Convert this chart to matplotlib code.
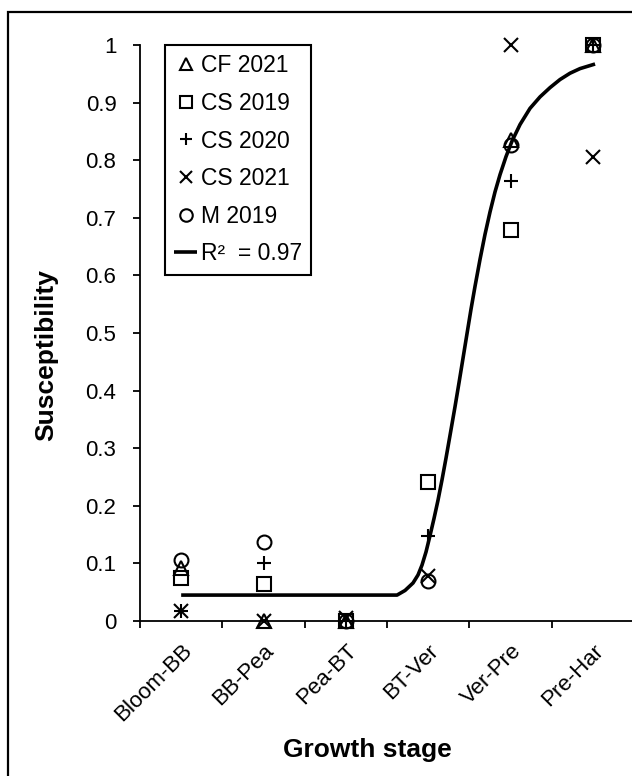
"""
Susceptibility by growth stage, one marker set per site-year plus the
fitted sigmoid (R^2 = 0.97). Values read off the published figure.
"""
import numpy as np
import matplotlib
matplotlib.use("Agg")
import matplotlib.pyplot as plt
from matplotlib.patches import Rectangle

plt.rcParams["font.family"] = ["Liberation Sans", "DejaVu Sans"]

STAGES = ["Bloom-BB", "BB-Pea", "Pea-BT", "BT-Ver", "Ver-Pre", "Pre-Har"]

CF_2021 = [0.092, 0.0, 0.0, np.nan, 0.835, 1.0]
CS_2019 = [0.075, 0.065, 0.0, 0.242, 0.679, 1.0]
CS_2020 = [0.018, 0.100, 0.0, 0.148, 0.764, 1.0]
CS_2021 = [0.018, 0.0, 0.006, 0.078, 1.0, 0.805]
M_2019 = [0.106, 0.137, 0.0, 0.070, 0.826, 1.0]

# fitted curve (x in stage-index units)
FIT_X = [0.0, 2.50, 2.622, 2.719, 2.816, 2.877, 2.925, 2.974, 3.022, 3.071,
         3.120, 3.168, 3.217, 3.265, 3.326, 3.375, 3.423, 3.472, 3.520,
         3.569, 3.630, 3.690, 3.751, 3.812, 3.873, 3.945, 4.018, 4.116,
         4.237, 4.359, 4.480, 4.601, 4.723, 4.844, 5.027]
FIT_Y = [0.045, 0.045, 0.045, 0.053, 0.066, 0.080, 0.097, 0.120, 0.148,
         0.178, 0.210, 0.245, 0.283, 0.322, 0.372, 0.414, 0.456, 0.499,
         0.541, 0.581, 0.628, 0.671, 0.710, 0.745, 0.775, 0.806, 0.833,
         0.862, 0.890, 0.910, 0.926, 0.940, 0.951, 0.959, 0.967]
FIT_LABEL = "R\u00b2  = 0.97"

Y_TICKS = [0, 0.1, 0.2, 0.3, 0.4, 0.5, 0.6, 0.7, 0.8, 0.9, 1]
Y_TICK_LABELS = ["0", "0.1", "0.2", "0.3", "0.4", "0.5", "0.6", "0.7",
                 "0.8", "0.9", "1"]

W, H = 632, 776
FS = 16
FS_LEG = 16.5


def main():
    fig = plt.figure(figsize=(W / 100, H / 100), dpi=100)
    ax = fig.add_axes([140 / W, (H - 621) / H, 494 / W, 576 / H])

    x = np.arange(len(STAGES))
    series = [("CF 2021", CF_2021, "^"), ("CS 2019", CS_2019, "s"),
              ("CS 2020", CS_2020, "+"), ("CS 2021", CS_2021, "x"),
              ("M 2019", M_2019, "o")]
    for name, vals, mk in series:
        ax.plot(x, vals, ls="none", marker=mk, ms=10, mfc="none", mec="black",
                mew=1.5, clip_on=False, label=name, zorder=3)

    ax.plot(FIT_X, FIT_Y, color="black", lw=2.6, solid_joinstyle="round",
            solid_capstyle="butt", label=FIT_LABEL, zorder=4)

    ax.set_xlim(-0.5, len(STAGES) - 0.5)
    ax.set_ylim(0, 1)
    ax.set_xticks(np.arange(-0.5, len(STAGES)), minor=False)
    ax.set_xticklabels([])
    ax.set_xticks(x, minor=True)
    ax.set_xticklabels(STAGES, minor=True, rotation=45, ha="right", va="top",
                       rotation_mode="anchor", fontsize=FS)
    ax.tick_params(axis="x", which="major", direction="out", length=5,
                   width=1.3)
    ax.tick_params(axis="x", which="minor", length=0, pad=14)
    ax.set_yticks(Y_TICKS)
    ax.set_yticklabels(Y_TICK_LABELS, fontsize=FS)
    ax.tick_params(axis="y", direction="out", length=5, width=1.3, pad=12)

    for side in ("top", "right"):
        ax.spines[side].set_visible(False)
    for side in ("left", "bottom"):
        ax.spines[side].set_linewidth(1.3)

    ax.set_ylabel("Susceptibility", fontsize=19, fontweight="bold", va="center")
    ax.yaxis.set_label_coords(-0.19, 0.462)
    ax.set_xlabel("Growth stage", fontsize=19, fontweight="bold", va="center")
    ax.xaxis.set_label_coords(0.4595, -0.224)

    leg = ax.legend(loc="upper left", bbox_to_anchor=(165 / W, 1 - 45 / H),
                    bbox_transform=fig.transFigure, borderaxespad=0,
                    fontsize=FS_LEG, handlelength=1.0, handletextpad=0.15,
                    labelspacing=0.64, borderpad=0.4, fancybox=False,
                    framealpha=1, markerscale=0.9)
    leg.get_frame().set_edgecolor("black")
    leg.get_frame().set_linewidth(1.5)

    # outer frame of the figure, running off the right and bottom edges
    fig.patches.append(Rectangle((8 / W, -0.1), 1.1, 1 - 12 / H + 0.1,
                                 transform=fig.transFigure, fill=False,
                                 edgecolor="black", lw=1.6))

    fig.savefig("out.png", dpi=100)
    plt.close(fig)


if __name__ == "__main__":
    main()
